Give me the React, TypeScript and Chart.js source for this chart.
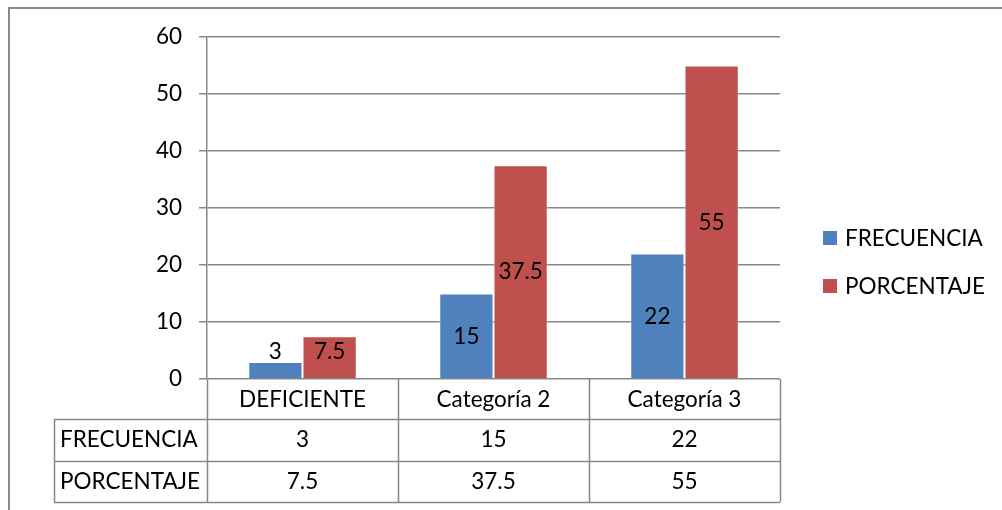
import React, { useEffect, useRef } from "react";
import { Chart, registerables } from "chart.js";

Chart.register(...registerables);

const categories = ["DEFICIENTE", "Categoría 2", "Categoría 3"];
const seriesNames = ["FRECUENCIA", "PORCENTAJE"];
const frecuencia = [3, 15, 22];
const porcentaje = [7.5, 37.5, 55];
const yTicks = [0, 10, 20, 30, 40, 50, 60];

const BLUE = "#4F81BD";
const RED = "#C0504D";
const LINE = "#878787";
const FONT = "Lato, 'Open Sans', sans-serif";
const FONT_SIZE = 22.5;

const fmt = (v: number) => String(v);

// Bar value labels, centred in the bar; short bars get the label lifted above the base.
const valueLabels = {
  id: "valueLabels",
  afterDatasetsDraw(chart: any) {
    const { ctx } = chart;
    const base = chart.scales.y.getPixelForValue(0);
    ctx.save();
    ctx.font = `${FONT_SIZE}px ${FONT}`;
    ctx.fillStyle = "#000";
    ctx.textAlign = "center";
    ctx.textBaseline = "middle";
    chart.data.datasets.forEach((ds: any, di: number) => {
      const meta = chart.getDatasetMeta(di);
      meta.data.forEach((bar: any, i: number) => {
        const mid = (bar.y + base) / 2;
        const y = Math.min(mid, base - 27);
        ctx.fillText(fmt(ds.data[i]), bar.x, y);
      });
    });
    ctx.restore();
  },
};

// Data table under the plot, legend on the right, and the outer frame.
const extras = {
  id: "extras",
  afterDraw(chart: any) {
    const { ctx, chartArea } = chart;
    const x = chart.scales.x;
    const left = chartArea.left;
    const right = chartArea.right;
    const top = chartArea.bottom;
    const rowH = [40, 42, 41];
    const r1 = top + rowH[0];
    const r2 = r1 + rowH[1];
    const r3 = r2 + rowH[2];
    const labelLeft = 54;
    const step = (right - left) / categories.length;

    ctx.save();
    ctx.strokeStyle = LINE;
    ctx.lineWidth = 1.5;
    ctx.beginPath();
    // vertical separators
    for (let i = 0; i <= categories.length; i++) {
      const px = Math.round(left + step * i) + 0.5;
      ctx.moveTo(px, top);
      ctx.lineTo(px, r3);
    }
    ctx.moveTo(labelLeft + 0.5, r1);
    ctx.lineTo(labelLeft + 0.5, r3);
    // horizontal rules
    [r1, r2, r3].forEach((ry) => {
      ctx.moveTo(labelLeft, ry + 0.5);
      ctx.lineTo(right, ry + 0.5);
    });
    ctx.stroke();

    ctx.font = `${FONT_SIZE}px ${FONT}`;
    ctx.fillStyle = "#000";
    ctx.textBaseline = "middle";
    ctx.textAlign = "center";
    categories.forEach((c, i) => {
      const cx = x.getPixelForValue(i);
      ctx.fillText(c, cx, (top + r1) / 2 + 1);
      ctx.fillText(fmt(frecuencia[i]), cx, (r1 + r2) / 2);
      ctx.fillText(fmt(porcentaje[i]), cx, (r2 + r3) / 2);
    });
    ctx.textAlign = "left";
    ctx.fillText(seriesNames[0], labelLeft + 6, (r1 + r2) / 2);
    ctx.fillText(seriesNames[1], labelLeft + 6, (r2 + r3) / 2);

    // legend
    const colors = [BLUE, RED];
    const legendY = [238, 286];
    seriesNames.forEach((n, i) => {
      ctx.fillStyle = colors[i];
      ctx.fillRect(823, legendY[i] - 7, 14, 14);
      ctx.fillStyle = "#000";
      ctx.fillText(n, 845, legendY[i] + 1);
    });

    // outer frame
    ctx.strokeStyle = "#8a8a8a";
    ctx.lineWidth = 2;
    ctx.beginPath();
    ctx.moveTo(9, 510);
    ctx.lineTo(9, 8);
    ctx.lineTo(1002, 8);
    ctx.stroke();
    ctx.restore();
  },
};

export default function App() {
  const ref = useRef<HTMLCanvasElement | null>(null);

  useEffect(() => {
    if (!ref.current) return;
    const chart = new Chart(ref.current, {
      type: "bar",
      data: {
        labels: categories,
        datasets: [
          { label: seriesNames[0], data: frecuencia, backgroundColor: BLUE, borderColor: "rgba(255,255,255,0.5)", borderWidth: 1 },
          { label: seriesNames[1], data: porcentaje, backgroundColor: RED, borderColor: "rgba(255,255,255,0.5)", borderWidth: 1 },
        ],
      },
      options: {
        animation: false,
        responsive: false,
        events: [],
        layout: { padding: { left: 0, top: 37, right: 222, bottom: 0 } },
        datasets: { bar: { categoryPercentage: 0.568, barPercentage: 1 } },
        plugins: { legend: { display: false }, tooltip: { enabled: false } },
        scales: {
          x: {
            grid: { display: false },
            border: { display: false },
            ticks: { display: false },
            afterFit: (s: any) => {
              s.height = 131;
            },
          },
          y: {
            min: 0,
            max: 60,
            afterBuildTicks: (s: any) => {
              s.ticks = yTicks.map((v) => ({ value: v }));
            },
            afterFit: (s: any) => {
              s.width = 207;
            },
            grid: { color: LINE, lineWidth: 1.5, tickLength: 8 },
            border: { color: LINE, width: 1.5 },
            ticks: {
              padding: 17,
              color: "#000",
              font: { family: FONT, size: FONT_SIZE },
            },
          },
        },
      },
      plugins: [valueLabels, extras],
    });
    return () => chart.destroy();
  }, []);

  return (
    <div style={{ position: "fixed", left: 0, top: 0, width: 1002, height: 510, background: "#fff" }}>
      <canvas ref={ref} width={1002} height={510} style={{ display: "block" }} />
    </div>
  );
}
